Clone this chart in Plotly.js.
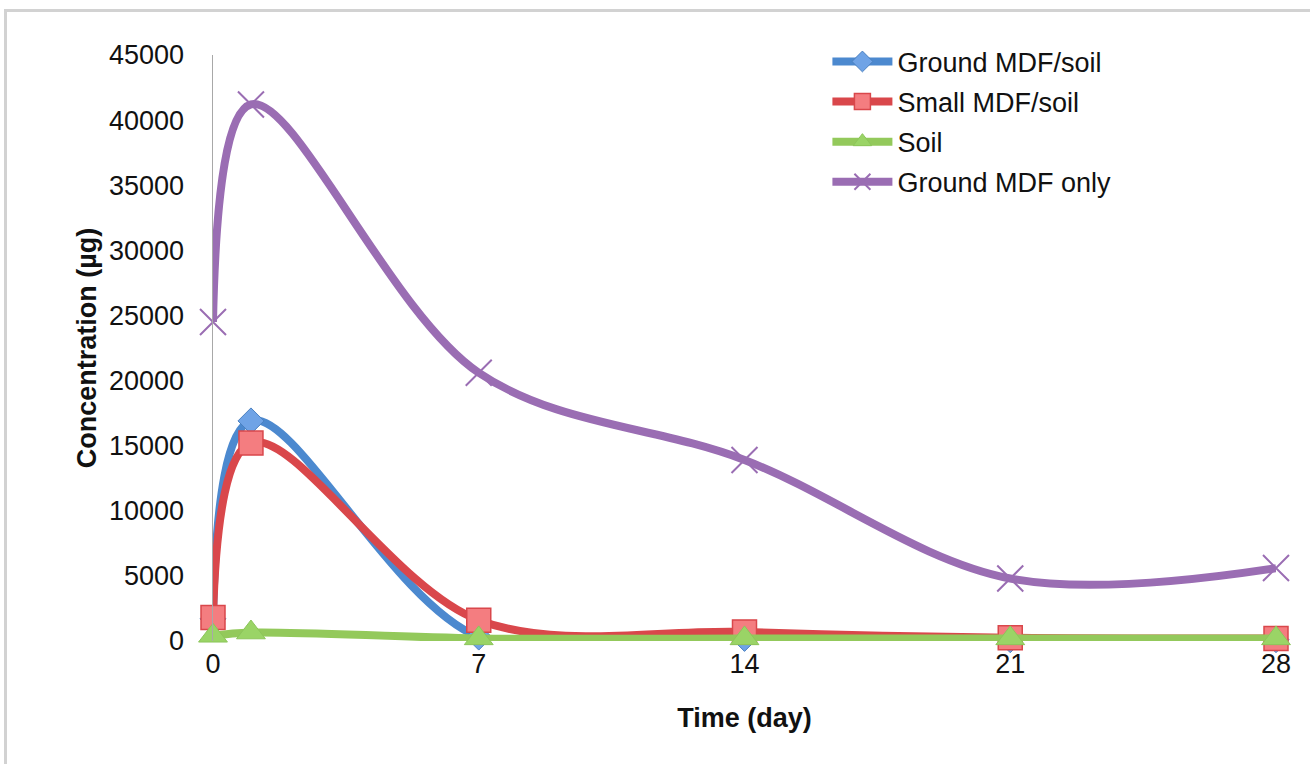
<!DOCTYPE html>
<html>
<head>
<meta charset="utf-8">
<script src="https://cdn.plot.ly/plotly-3.0.1.min.js"></script>
<style>
  html, body { margin: 0; padding: 0; background: #fff; }
  #wrap { position: relative; width: 1310px; height: 764px; overflow: hidden; }
  #frame { position: absolute; left: 4px; top: 9px; width: 1400px; height: 900px;
           border-left: 3px solid #d2d2d2; border-top: 3px solid #d2d2d2; pointer-events: none; }
  #chart { position: absolute; left: 0; top: 0; width: 1310px; height: 764px; }
</style>
</head>
<body>
<div id="wrap">
  <div id="chart"></div>
  <div id="frame"></div>
</div>
<script>
const days = [0, 1, 7, 14, 21, 28];
const xTicks = [0, 7, 14, 21, 28];
const groundMdfSoil = [1700, 16900, 300, 200, 100, 100];
const smallMdfSoil = [1800, 15200, 1600, 700, 250, 200];
const soil = [400, 650, 200, 200, 200, 200];
const groundMdfOnly = [24500, 41200, 20600, 13900, 4800, 5600];
const seriesNames = ['Ground MDF/soil', 'Small MDF/soil', 'Soil', 'Ground MDF only'];

const colors = ['#4c89cf', '#d9474b', '#93c95b', '#9a6db3'];

function tr(name, y, color, marker, i) {
  return {
    x: days, y: y, name: name, type: 'scatter', mode: 'lines+markers',
    line: { color: color, width: 8, shape: 'spline', smoothing: 1 },
    marker: marker, cliponaxis: false, legendgroup: 'g' + i
  };
}

const data = [
  tr(seriesNames[0], groundMdfSoil, colors[0],
     { symbol: 'diamond', size: 20, color: '#6fa3e6', line: { color: '#4a80c0', width: 1 } }, 0),
  tr(seriesNames[1], smallMdfSoil, colors[1],
     { symbol: 'square', size: 24, color: '#f47d80', line: { color: '#d9474b', width: 1.5 } }, 1),
  tr(seriesNames[2], soil, colors[2],
     { symbol: 'triangle-up', size: 25, color: '#9ad466', line: { color: '#8cc55a', width: 1 } }, 2),
  tr(seriesNames[3], groundMdfOnly, colors[3],
     { symbol: 'x-thin-open', size: 26, color: colors[3], line: { color: colors[3], width: 2 } }, 3)
];

const layout = {
  width: 1310, height: 764,
  margin: { l: 213, r: 34, t: 55, b: 123 },
  paper_bgcolor: '#fff', plot_bgcolor: '#fff',
  font: { family: 'Liberation Sans, Arial, sans-serif', size: 27, color: '#111' },
  showlegend: true,
  legend: {
    x: 0.578, y: 1.03, xanchor: 'left', yanchor: 'top',
    traceorder: 'grouped', itemwidth: 60, tracegroupgap: 2,
    font: { size: 27, color: '#111' }, bgcolor: 'rgba(0,0,0,0)'
  },
  xaxis: {
    range: [0, 28], tickvals: xTicks, ticktext: xTicks.map(String),
    showgrid: false, zeroline: false, showline: false, ticks: '',
    tickfont: { size: 27 }, ticklabelstandoff: 4,
    title: { text: '<b>Time (day)</b>', font: { size: 27 }, standoff: 30 }
  },
  yaxis: {
    range: [0, 45000], dtick: 5000, tickformat: 'd',
    showgrid: false, zeroline: false, showline: true, linecolor: '#a8a8a8', linewidth: 1.5,
    ticks: '', tickfont: { size: 27 }, ticklabelstandoff: 22,
    title: { text: '<b>Concentration (µg)</b>', font: { size: 27 }, standoff: 4 }
  }
};

Plotly.newPlot('chart', data, layout, { displayModeBar: false, staticPlot: true });
</script>
</body>
</html>
